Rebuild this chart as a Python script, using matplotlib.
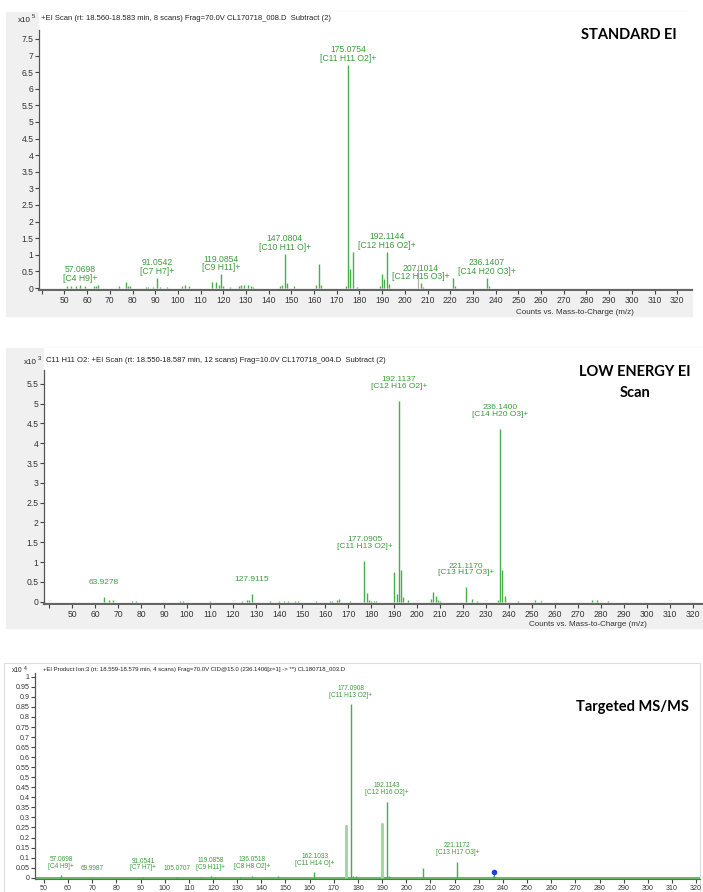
import matplotlib
matplotlib.use('Agg')
import matplotlib.pyplot as plt
from matplotlib.patches import Rectangle
import numpy as np

plt.rcParams['font.family'] = ['Liberation Sans Narrow', 'Liberation Sans', 'DejaVu Sans']

# ---- panel 1: standard EI (x10^5 counts)
mz1 = [51, 53, 55, 57, 59, 63, 64, 65, 74, 77, 78, 79, 86, 87, 89, 91, 92, 95,
       102, 103, 105, 115, 117, 118, 119, 120, 123, 127, 128, 129, 131, 132, 133,
       145, 146, 147, 148, 151, 161, 162, 163, 174, 175, 176, 177, 179,
       189, 190, 191, 192, 193, 207, 208, 221, 222, 236, 237]
int1 = [0.06, 0.05, 0.07, 0.10, 0.06, 0.05, 0.07, 0.08, 0.05, 0.19, 0.06, 0.06, 0.04, 0.04, 0.04, 0.31, 0.04, 0.04,
        0.05, 0.10, 0.05, 0.18, 0.17, 0.08, 0.41, 0.06, 0.04, 0.05, 0.09, 0.08, 0.10, 0.07, 0.04,
        0.06, 0.10, 1.02, 0.15, 0.05, 0.10, 0.72, 0.08, 0.05, 6.72, 0.57, 1.09, 0.04,
        0.05, 0.42, 0.26, 1.08, 0.12, 0.14, 0.04, 0.31, 0.06, 0.31, 0.07]
lab_mz1 = [57.0698, 91.0542, 119.0854, 147.0804, 175.0754, 192.1144, 207.1014, 236.1407]
lab_f1 = ['[C4 H9]+', '[C7 H7]+', '[C9 H11]+', '[C10 H11 O]+', '[C11 H11 O2]+',
          '[C12 H16 O2]+', '[C12 H15 O3]+', '[C14 H20 O3]+']
cursor1 = 205.9
cursor1_h = 0.68
title1 = '+EI Scan (rt: 18.560-18.583 min, 8 scans) Frag=70.0V CL170718_008.D  Subtract (2)'

# ---- panel 2: low energy EI (x10^3 counts)
mz2 = [64, 66, 68, 76, 78, 97, 98, 110, 124, 126, 127, 128, 136, 140, 142, 144, 147, 148,
       156, 162, 163, 165, 166, 171, 177, 178, 179, 180, 181, 182, 190, 191, 192, 193, 194,
       196, 206, 207, 208, 209, 210, 221, 224, 226, 235, 236, 237, 238, 244, 251, 254, 276, 278, 283]
int2 = [0.11, 0.04, 0.04, 0.03, 0.03, 0.03, 0.03, 0.03, 0.03, 0.04, 0.05, 0.19, 0.03, 0.03, 0.03, 0.03, 0.03, 0.03,
        0.03, 0.03, 0.03, 0.04, 0.07, 0.03, 1.03, 0.21, 0.05, 0.03, 0.03, 0.03, 0.76, 0.19, 5.07, 0.80, 0.13,
        0.05, 0.06, 0.25, 0.14, 0.05, 0.03, 0.36, 0.08, 0.03, 0.05, 4.36, 0.80, 0.14, 0.03, 0.04, 0.03, 0.04, 0.04, 0.03]
lab_mz2 = [63.9278, 127.9115, 177.0905, 192.1137, 221.1170, 236.1400]
lab_f2 = ['', '', '[C11 H13 O2]+', '[C12 H16 O2]+', '[C13 H17 O3]+', '[C14 H20 O3]+']
title2 = 'C11 H11 O2: +EI Scan (rt: 18.550-18.587 min, 12 scans) Frag=10.0V CL170718_004.D  Subtract (2)'

# ---- panel 3: targeted MS/MS (x10^4 counts)
mz3 = [57, 70, 91, 105, 115, 119, 121, 131, 136, 147, 162, 175, 176, 177, 178, 179,
       190, 191, 192, 193, 207, 221, 236]
int3 = [0.012, 0.003, 0.004, 0.003, 0.003, 0.006, 0.004, 0.003, 0.010, 0.006, 0.028, 0.261, 0.005, 0.864, 0.008, 0.006,
        0.274, 0.005, 0.378, 0.006, 0.047, 0.080, 0.010]
pale3 = [175, 190]
lab_mz3 = [57.0698, 69.9987, 91.0541, 105.0707, 119.0858, 136.0518, 162.1033, 177.0908, 192.1143, 221.1172]
lab_f3 = ['[C4 H9]+', '', '[C7 H7]+', '', '[C9 H11]+', '[C8 H8 O2]+', '[C11 H14 O]+',
          '[C11 H13 O2]+', '[C12 H16 O2]+', '[C13 H17 O3]+']
precursor3 = 236.1406
precursor3_h = 0.027
title3 = '+EI Product Ion:3 (rt: 18.559-18.579 min, 4 scans) Frag=70.0V CID@15.0 (236.1406[z=1] -> **) CL180718_003.D'

W, H = 703, 892
fig = plt.figure(figsize=(W / 100, H / 100), dpi=100)

GREEN = '#45b04a'
TXTGREEN = '#3c9c3c'
GREY = '#f0f0f0'


def fbox(l, t, r, b):
    return [l / W, 1 - b / H, (r - l) / W, (b - t) / H]


def rect(l, t, r, b, **kw):
    fig.patches.append(Rectangle((l / W, 1 - b / H), (r - l) / W, (b - t) / H,
                                 transform=fig.transFigure, figure=fig, zorder=-5, **kw))


def ftext(x, y, s, **kw):
    fig.text(x / W, 1 - y / H, s, zorder=5, **kw)


def panel(pos, mz, inten, lab_mz, lab_f, xlim, ylim, ystep, fs, tfs, lab_off, first_x):
    ax = fig.add_axes(fbox(*pos), zorder=2)
    ax.patch.set_alpha(0)
    ax.vlines(mz, 0, inten, color=GREEN, lw=1.0)
    ax.set_xlim(*xlim)
    ax.set_ylim(*ylim)
    mz_a = np.array(mz)
    in_a = np.array(inten)
    for m, f in zip(lab_mz, lab_f):
        h = in_a[np.abs(mz_a - m) < 0.7].max()
        s = '%.4f' % m if f == '' else '%.4f\n%s' % (m, f)
        ax.annotate(s, (m, h), xytext=(0, lab_off), textcoords='offset points',
                    ha='center', va='bottom', fontsize=fs, color=TXTGREEN, linespacing=0.95)
    yt = np.arange(0, ylim[1] + 1e-9, ystep)
    ax.set_yticks(yt)
    ax.set_yticklabels(['%g' % round(v, 3) for v in yt])
    xt = np.arange(first_x, 330, 10)
    ax.set_xticks(xt)
    ax.set_xticklabels(['' if v == 40 else str(v) for v in xt])
    ax.tick_params(direction='out', length=3, width=0.8, color='#444', labelsize=tfs,
                   labelcolor='#333', pad=1)
    for s in ['top', 'right']:
        ax.spines[s].set_visible(False)
    ax.spines['left'].set_color('#555')
    ax.spines['left'].set_linewidth(0.9)
    ax.spines['bottom'].set_color('#666')
    ax.spines['bottom'].set_linewidth(1.6)
    return ax


# panel 1 frame
rect(6, 12, 692, 316, color=GREY)
rect(39, 12, 692, 291, color='white')
ax1 = panel((39, 30, 692, 290), mz1, int1, lab_mz1, lab_f1, (38.8, 326.5), (-0.06, 7.77), 0.5, 6.2, 6.2, 1.5, 40)
ax1.vlines([cursor1], 0, cursor1_h, color='#b0b0b0', lw=0.9, zorder=0)
ftext(41, 19, title1, fontsize=5.5, color='#222', va='center')
ftext(31, 20, 'x10', fontsize=5.8, color='#222', va='center', ha='right')
ftext(32, 17, '5', fontsize=4.2, color='#222', va='center', ha='left')
ftext(575, 312, 'Counts vs. Mass-to-Charge (m/z)', fontsize=5.8, color='#333', va='center', ha='center')
ftext(629, 35, 'STANDARD EI', fontsize=10.5, fontweight='bold', family=['Lato', 'DejaVu Sans'],
      va='center', ha='center', color='black')

# panel 2 frame
rect(6, 348, 703, 628, color=GREY)
rect(44, 348, 703, 605, color='white')
ax2 = panel((44, 370, 703, 604), mz2, int2, lab_mz2, lab_f2, (37.8, 324.2), (-0.058, 5.85), 0.5, 6.0, 6.2, 8, 40)
ftext(46, 361, title2, fontsize=5.5, color='#222', va='center')
ftext(37, 362, 'x10', fontsize=5.8, color='#222', va='center', ha='right')
ftext(38, 359, '3', fontsize=4.2, color='#222', va='center', ha='left')
ftext(588, 625, 'Counts vs. Mass-to-Charge (m/z)', fontsize=5.8, color='#333', va='center', ha='center')
ftext(635, 372, 'LOW ENERGY EI', fontsize=10.5, fontweight='bold', family=['Lato', 'DejaVu Sans'],
      va='center', ha='center', color='black')
ftext(635, 393, 'Scan', fontsize=10.5, fontweight='bold', family=['Lato', 'DejaVu Sans'],
      va='center', ha='center', color='black')

# panel 3 frame
rect(4, 663, 700, 893, facecolor='white', edgecolor='#dddddd', lw=0.8)
ax3 = panel((35, 673, 700, 879), mz3, int3, lab_mz3, lab_f3, (46.3, 321.6), (-0.0065, 1.019), 0.05, 4.7, 5.1, 4, 50)
ax3.axhline(0, color=GREEN, lw=1.2, zorder=1)
ax3.vlines(pale3, 0, [int3[mz3.index(p)] for p in pale3], color='#9fd89f', lw=2.0, zorder=3)
ax3.plot([precursor3], [precursor3_h], marker='o', ms=3, color='#1f3fe0', zorder=4)
ax3.vlines([precursor3], 0, precursor3_h, color=GREEN, lw=0.8)
ax3.spines['bottom'].set_linewidth(0.8)
ftext(43, 669, title3, fontsize=4.3, color='#222', va='center')
ftext(23, 670, 'x10', fontsize=4.8, color='#222', va='center', ha='right')
ftext(24, 668, '4', fontsize=3.6, color='#222', va='center', ha='left')
ftext(632, 707, 'Targeted MS/MS', fontsize=10.5, fontweight='bold', family=['Lato', 'DejaVu Sans'],
      va='center', ha='center', color='black')

fig.savefig('out.png', dpi=100)
